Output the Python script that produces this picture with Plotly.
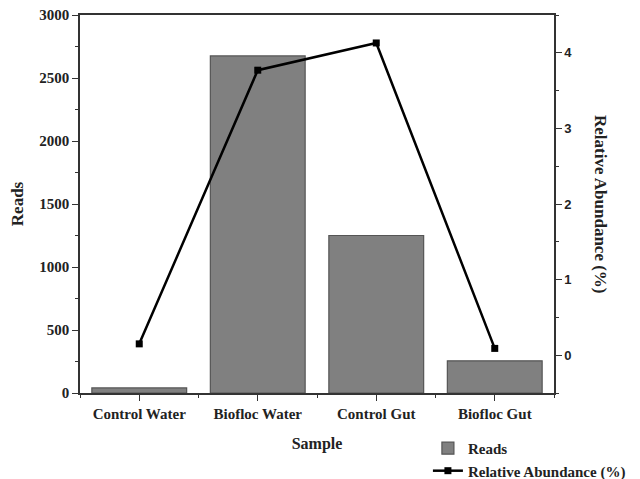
import plotly.graph_objects as go

categories = ["Control Water", "Biofloc Water", "Control Gut", "Biofloc Gut"]
reads = [40, 2675, 1250, 255]
rel_abundance = [0.15, 3.77, 4.13, 0.09]
left_ticks = [0, 500, 1000, 1500, 2000, 2500, 3000]
right_ticks = [0, 1, 2, 3, 4]

xpos = list(range(len(categories)))
serif = "Liberation Serif, Times New Roman, serif"
sans = "Liberation Sans, Arial, sans-serif"
axcol = "#333333"

fig = go.Figure()
fig.add_trace(go.Bar(
    x=xpos, y=reads, name="<b>Reads</b>", width=0.8,
    marker=dict(color="#808080", line=dict(color="#555555", width=1.2)),
    yaxis="y",
))
fig.add_trace(go.Scatter(
    x=xpos, y=rel_abundance, name="<b>Relative Abundance (%)</b>",
    mode="lines+markers",
    line=dict(color="black", width=2.5),
    marker=dict(symbol="square", size=7, color="black"),
    yaxis="y2",
))

fig.update_layout(
    width=632, height=471,
    margin=dict(l=72, r=86, t=7, b=86, autoexpand=False),
    plot_bgcolor="white", paper_bgcolor="white",
    showlegend=True,
    legend=dict(x=0.734, y=-0.103, xanchor="left", yanchor="top",
                font=dict(family=serif, size=15, color="#222"),
                bgcolor="rgba(0,0,0,0)", tracegroupgap=0),
    xaxis=dict(
        range=[-0.5, 3.5], tickvals=xpos, ticktext=[f"<b>{c}</b>" for c in categories],
        tickfont=dict(family=serif, size=15, color="#222"),
        showline=True, linecolor=axcol, linewidth=1.5, mirror=True,
        ticks="outside", ticklen=6, tickcolor=axcol, tickwidth=1.2,
        minor=dict(tickvals=[-0.5, 0.5, 1.5, 2.5, 3.5], ticks="outside", ticklen=3, tickcolor=axcol),
        showgrid=False, zeroline=False, automargin=False, ticklabeloverflow="allow",
        title=dict(text="<b>Sample</b>", font=dict(family=serif, size=16, color="#222"), standoff=17),
    ),
    yaxis=dict(
        range=[0, 3000], tickvals=left_ticks, ticktext=[f"<b>{v}</b>" for v in left_ticks],
        tickfont=dict(family=serif, size=15, color="#222"),
        showline=True, linecolor=axcol, linewidth=1.5,
        ticks="outside", ticklen=6, tickcolor=axcol, tickwidth=1.2,
        minor=dict(dtick=250, tick0=0, ticks="outside", ticklen=3, tickcolor=axcol),
        showgrid=False, zeroline=False, automargin=False, ticklabeloverflow="allow",
        title=dict(text="<b>Reads</b>", font=dict(family=serif, size=17, color="#222"), standoff=14),
    ),
    yaxis2=dict(
        overlaying="y", side="right", anchor="x",
        range=[-0.5, 4.5], tickvals=right_ticks, ticktext=[f"<b>{v}</b>" for v in right_ticks],
        tickfont=dict(family=sans, size=13, color="#222"),
        showline=True, linecolor=axcol, linewidth=1.5,
        ticks="outside", ticklen=6, tickcolor=axcol, tickwidth=1.2,
        minor=dict(dtick=0.5, tick0=0, ticks="outside", ticklen=3, tickcolor=axcol),
        showgrid=False, zeroline=False, automargin=False, ticklabeloverflow="allow",
    ),
    annotations=[dict(
        text="<b>Relative Abundance (%)</b>", textangle=90,
        xref="paper", yref="paper", x=1.0, y=0.5, xshift=47,
        xanchor="center", yanchor="middle", showarrow=False,
        font=dict(family=serif, size=17, color="#222"),
    )],
)

fig.write_html("out.html")
